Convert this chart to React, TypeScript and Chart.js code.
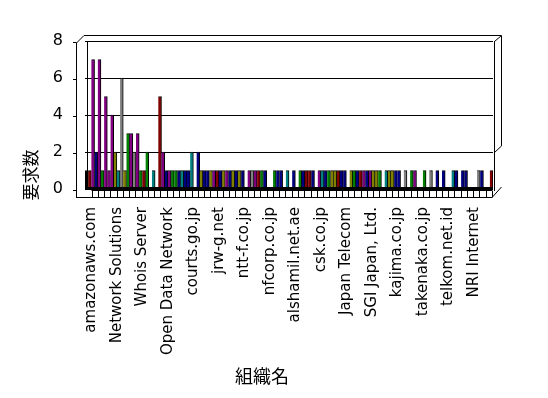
import React, { useEffect, useRef } from 'react';
import { Chart, registerables } from 'chart.js';

Chart.register(...registerables);

// 64 organisations; only every fourth name is printed in the original chart
const categories: string[] = [
  'amazonaws.com', '', '', '',
  'Network Solutions', '', '', '',
  'Whois Server', '', '', '',
  'Open Data Network', '', '', '',
  'courts.go.jp', '', '', '',
  'jrw-g.net', '', '', '',
  'ntt-f.co.jp', '', '', '',
  'nfcorp.co.jp', '', '', '',
  'alshamil.net.ae', '', '', '',
  'csk.co.jp', '', '', '',
  'Japan Telecom', '', '', '',
  'SGI Japan, Ltd.', '', '', '',
  'kajima.co.jp', '', '', '',
  'takenaka.co.jp', '', '', '',
  'telkom.net.id', '', '', '',
  'NRI Internet', '', '', '',
];

const seriesA: number[] = [
  1, 7, 7, 5, 4, 1, 1, 3, 3, 1, 0, 0, 2, 1, 1, 1,
  1, 0, 1, 1, 1, 1, 1, 1, 1, 0, 1, 1, 1, 0, 1, 0,
  0, 0, 1, 1, 0, 1, 1, 1, 1, 0, 1, 1, 1, 1, 1, 1,
  1, 1, 1, 1, 0, 1, 1, 1, 1, 0, 1, 1, 0, 0, 1, 0,
];
const seriesB: number[] = [
  1, 2, 1, 1, 2, 6, 3, 2, 1, 2, 1, 5, 1, 1, 1, 1,
  2, 2, 1, 1, 1, 1, 1, 1, 1, 1, 1, 1, 0, 1, 1, 1,
  1, 1, 1, 1, 1, 1, 1, 1, 1, 1, 1, 1, 1, 1, 0, 1,
  1, 0, 0, 1, 0, 0, 0, 0, 0, 1, 0, 1, 0, 1, 0, 1,
];

// colour codes per bar
const colorCodesA: string[] = [
  'K', 'P', 'P', 'P', 'P', 'T', 'O', 'P', 'P', 'R', 'K', 'K', 'P', 'P', 'G', 'T',
  'N', 'K', 'O', 'N', 'P', 'N', 'P', 'O', 'O', 'K', 'Y', 'R', 'N', 'K', 'N', 'K',
  'K', 'K', 'N', 'R', 'K', 'T', 'G', 'O', 'N', 'K', 'G', 'R', 'N', 'O', 'G', 'T',
  'O', 'N', 'Y', 'G', 'K', 'G', 'Y', 'N', 'N', 'K', 'N', 'N', 'K', 'K', 'N', 'K',
];
const colorCodesB: string[] = [
  'R', 'N', 'G', 'P', 'O', 'Y', 'G', 'Y', 'G', 'G', 'T', 'R', 'N', 'G', 'N', 'N',
  'T', 'N', 'N', 'O', 'R', 'O', 'N', 'N', 'N', 'P', 'P', 'G', 'K', 'G', 'N', 'T',
  'N', 'G', 'R', 'N', 'P', 'N', 'O', 'R', 'N', 'O', 'N', 'P', 'P', 'O', 'K', 'O',
  'N', 'K', 'K', 'P', 'K', 'K', 'K', 'K', 'K', 'T', 'K', 'N', 'K', 'Y', 'K', 'R',
];

const palette: Record<string, string> = {
  K: '#000000',
  R: '#800000',
  N: '#000080',
  P: '#800080',
  G: '#008000',
  T: '#008080',
  O: '#808000',
  Y: '#808080',
};

const yTitle = '要求数';
const xTitle = '組織名';

const line = (ctx: CanvasRenderingContext2D, x1: number, y1: number, x2: number, y2: number) => {
  ctx.beginPath();
  ctx.moveTo(x1, y1);
  ctx.lineTo(x2, y2);
  ctx.stroke();
};

const frame3d = {
  id: 'frame3d',
  beforeDatasetsDraw(chart: any) {
    const { ctx, chartArea: a, scales } = chart;
    const L = Math.round(a.left), R = Math.round(a.right), T = Math.round(a.top), B = Math.round(a.bottom);
    const ys = scales.y;
    ctx.save();
    ctx.strokeStyle = '#000';
    ctx.lineWidth = 1;
    // back wall left edge
    line(ctx, L + 2.5, T, L + 2.5, B);
    // front left edge
    line(ctx, L - 8.5, T + 2, L - 8.5, B + 9);
    // top left diagonal + outer top
    line(ctx, L - 8.5, T + 2, L - 1, T - 5.5);
    line(ctx, L - 1, T - 5.5, R + 8, T - 5.5);
    // top right diagonal
    line(ctx, R + 1.5, T + 0.5, R + 8.5, T - 5.5);
    // inner right edge
    line(ctx, R + 1.5, T, R + 1.5, B + 2);
    // outer right edge
    const y2 = Math.round(ys.getPixelForValue(2));
    line(ctx, R + 8.5, T - 5.5, R + 8.5, y2 - 6);
    line(ctx, R + 8.5, y2 - 6, R + 1.5, y2 + 0.5);
    // bottom right diagonal
    line(ctx, R - 1, B + 8.5, R + 8.5, B - 2);
    // y tick marks on the front edge
    ys.ticks.forEach((t: any) => {
      const py = Math.round(ys.getPixelForValue(t.value)) + 1.5;
      line(ctx, L - 12, py, L - 8.5, py);
    });
    ctx.restore();
  },
  afterDatasetsDraw(chart: any) {
    const { ctx, chartArea: a } = chart;
    const L = Math.round(a.left), R = Math.round(a.right), B = Math.round(a.bottom);
    ctx.save();
    ctx.fillStyle = '#000';
    ctx.fillRect(L, B - 2, R - L, 3);
    ctx.strokeStyle = '#000';
    ctx.lineWidth = 1;
    // floor front strip with category boxes
    line(ctx, L - 8.5, B + 8.5, R - 1, B + 8.5);
    const sx = L + 6.5, ex = R - 1;
    line(ctx, sx, B + 1.5, ex, B + 1.5);
    const n = categories.length;
    for (let k = 0; k <= n; k++) {
      const x = Math.round(sx + (k * (ex - sx)) / n) + 0.5;
      line(ctx, x, B + 1.5, x, B + 8.5);
    }
    ctx.restore();
  },
  afterDraw(chart: any) {
    const { ctx } = chart;
    ctx.save();
    ctx.fillStyle = '#000';
    ctx.textAlign = 'center';
    ctx.textBaseline = 'middle';
    ctx.font = '17px "Noto Sans CJK JP"';
    ctx.translate(31, 175);
    ctx.rotate(-Math.PI / 2);
    ctx.fillText(yTitle, 0, 0);
    ctx.restore();
    ctx.save();
    ctx.fillStyle = '#000';
    ctx.textAlign = 'center';
    ctx.textBaseline = 'middle';
    ctx.font = '18px "Noto Sans CJK JP"';
    ctx.fillText(xTitle, 262, 376);
    ctx.restore();
  },
};

export default function App() {
  const ref = useRef<HTMLCanvasElement | null>(null);
  useEffect(() => {
    if (!ref.current) return;
    const chart = new Chart(ref.current, {
      type: 'bar',
      data: {
        labels: categories,
        datasets: [
          {
            label: 'A',
            data: seriesA,
            backgroundColor: colorCodesA.map((c) => palette[c]),
            borderColor: '#000',
            borderWidth: { top: 1, right: 1, left: 0, bottom: 0 },
            barPercentage: 1,
            categoryPercentage: 1,
          },
          {
            label: 'B',
            data: seriesB,
            backgroundColor: colorCodesB.map((c) => palette[c]),
            borderColor: '#000',
            borderWidth: { top: 1, right: 1, left: 0, bottom: 0 },
            barPercentage: 1,
            categoryPercentage: 1,
          },
        ],
      },
      options: {
        animation: false,
        responsive: false,
        layout: { padding: { top: 41, right: 55, left: 0, bottom: 0 } },
        plugins: { legend: { display: false }, tooltip: { enabled: false }, title: { display: false } },
        scales: {
          x: {
            grid: { display: false, drawTicks: false },
            border: { display: false },
            ticks: {
              autoSkip: false,
              minRotation: 90,
              maxRotation: 90,
              padding: 18,
              labelOffset: 3,
              color: '#000',
              font: { family: '"DejaVu Sans"', size: 15 },
            },
            afterFit: (s: any) => { s.height = 209; },
          },
          y: {
            min: 0,
            max: 8,
            grid: { color: '#000', lineWidth: 1, drawTicks: false },
            border: { display: false },
            ticks: {
              stepSize: 2,
              padding: 22,
              color: '#000',
              font: { family: '"DejaVu Sans"', size: 16 },
            },
            afterFit: (s: any) => { s.width = 85; },
          },
        },
      },
      plugins: [frame3d],
    });
    return () => chart.destroy();
  }, []);
  return (
    <div style={{ position: 'fixed', left: 0, top: 0, width: 548, height: 398, background: '#fff' }}>
      <canvas ref={ref} width={548} height={398} />
    </div>
  );
}
